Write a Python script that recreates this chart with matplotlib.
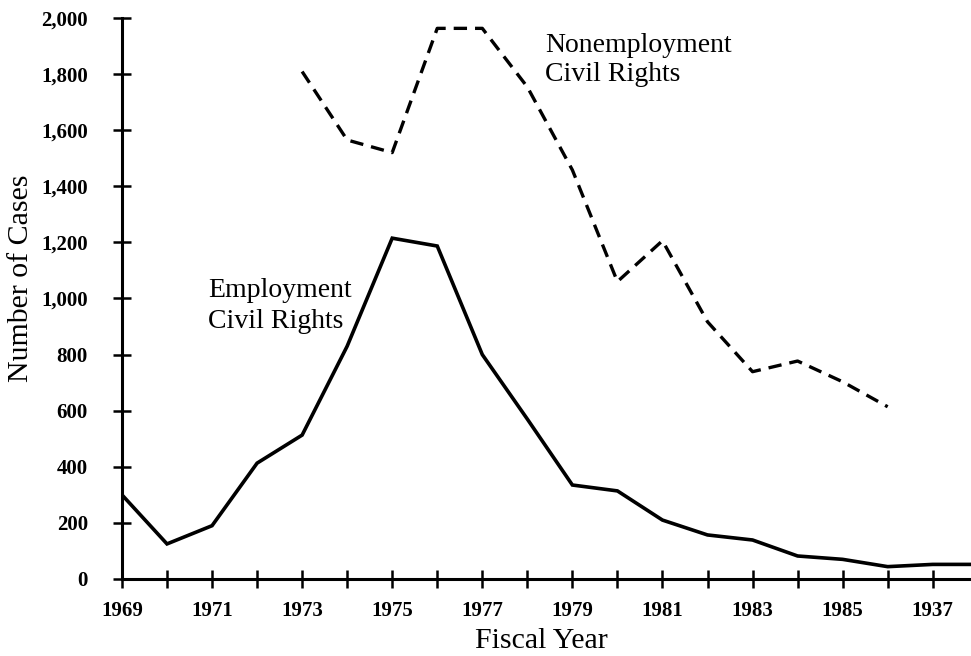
import matplotlib
matplotlib.use("Agg")
import matplotlib.pyplot as plt
from matplotlib.ticker import FuncFormatter

# data
years_emp = [1969, 1970, 1971, 1972, 1973, 1974, 1975, 1976, 1977, 1978,
             1979, 1980, 1981, 1982, 1983, 1984, 1985, 1986, 1987, 1988]
employment = [300, 125, 190, 413, 513, 830, 1215, 1187, 800, 570,
              335, 314, 210, 157, 139, 82, 70, 44, 52, 52]

years_non = [1973, 1974, 1975, 1976, 1977, 1978, 1979, 1980, 1981, 1982,
             1983, 1984, 1985, 1986]
nonemployment = [1809, 1565, 1520, 1963, 1963, 1754, 1458, 1060, 1206, 917,
                 739, 777, 703, 614]

x_ticks = list(range(1969, 1988))
x_labels = ['1969', '', '1971', '', '1973', '', '1975', '', '1977', '',
            '1979', '', '1981', '', '1983', '', '1985', '', '1937']
y_ticks = list(range(0, 2001, 200))

serif = ['Liberation Serif', 'DejaVu Serif']
plt.rcParams['font.family'] = serif

fig = plt.figure(figsize=(9.71, 6.56), dpi=100)
ax = fig.add_axes([0.1256, 0.1174, 0.8744, 0.8552])

ax.plot(years_emp, employment, color='black', linewidth=2.6,
        solid_joinstyle='miter')
ax.plot(years_non, nonemployment, color='black', linewidth=2.4,
        linestyle=(0, (4, 2.4)))

ax.set_xlim(1969, 1987.85)
ax.set_ylim(0, 2000)

for s in ['top', 'right']:
    ax.spines[s].set_visible(False)
for s in ['left', 'bottom']:
    ax.spines[s].set_linewidth(2.2)

ax.set_xticks(x_ticks)
ax.set_xticklabels(x_labels)
ax.set_yticks(y_ticks)
ax.yaxis.set_major_formatter(FuncFormatter(lambda v, p: f'{int(v):,}'))
ax.tick_params(axis='both', direction='inout', length=13, width=1.8,
               labelsize=15)
ax.tick_params(axis='x', pad=9)
ax.tick_params(axis='y', pad=18)
for lab in ax.get_xticklabels() + ax.get_yticklabels():
    lab.set_fontweight('bold')

fig.text(21 / 971, 1 - 278 / 656, 'Number of Cases', rotation=90,
         ha='center', va='center', fontsize=21.5)
fig.text(541 / 971, 1 - 641 / 656, 'Fiscal Year',
         ha='center', va='center', fontsize=21.5)

ax.text(1970.91, 973, 'Employment\nCivil Rights', ha='left', va='center',
        fontsize=20, linespacing=1.3)
ax.text(1978.39, 1850, 'Nonemployment\nCivil Rights', ha='left', va='center',
        fontsize=20, linespacing=1.2)

fig.savefig('out.png', dpi=100)
